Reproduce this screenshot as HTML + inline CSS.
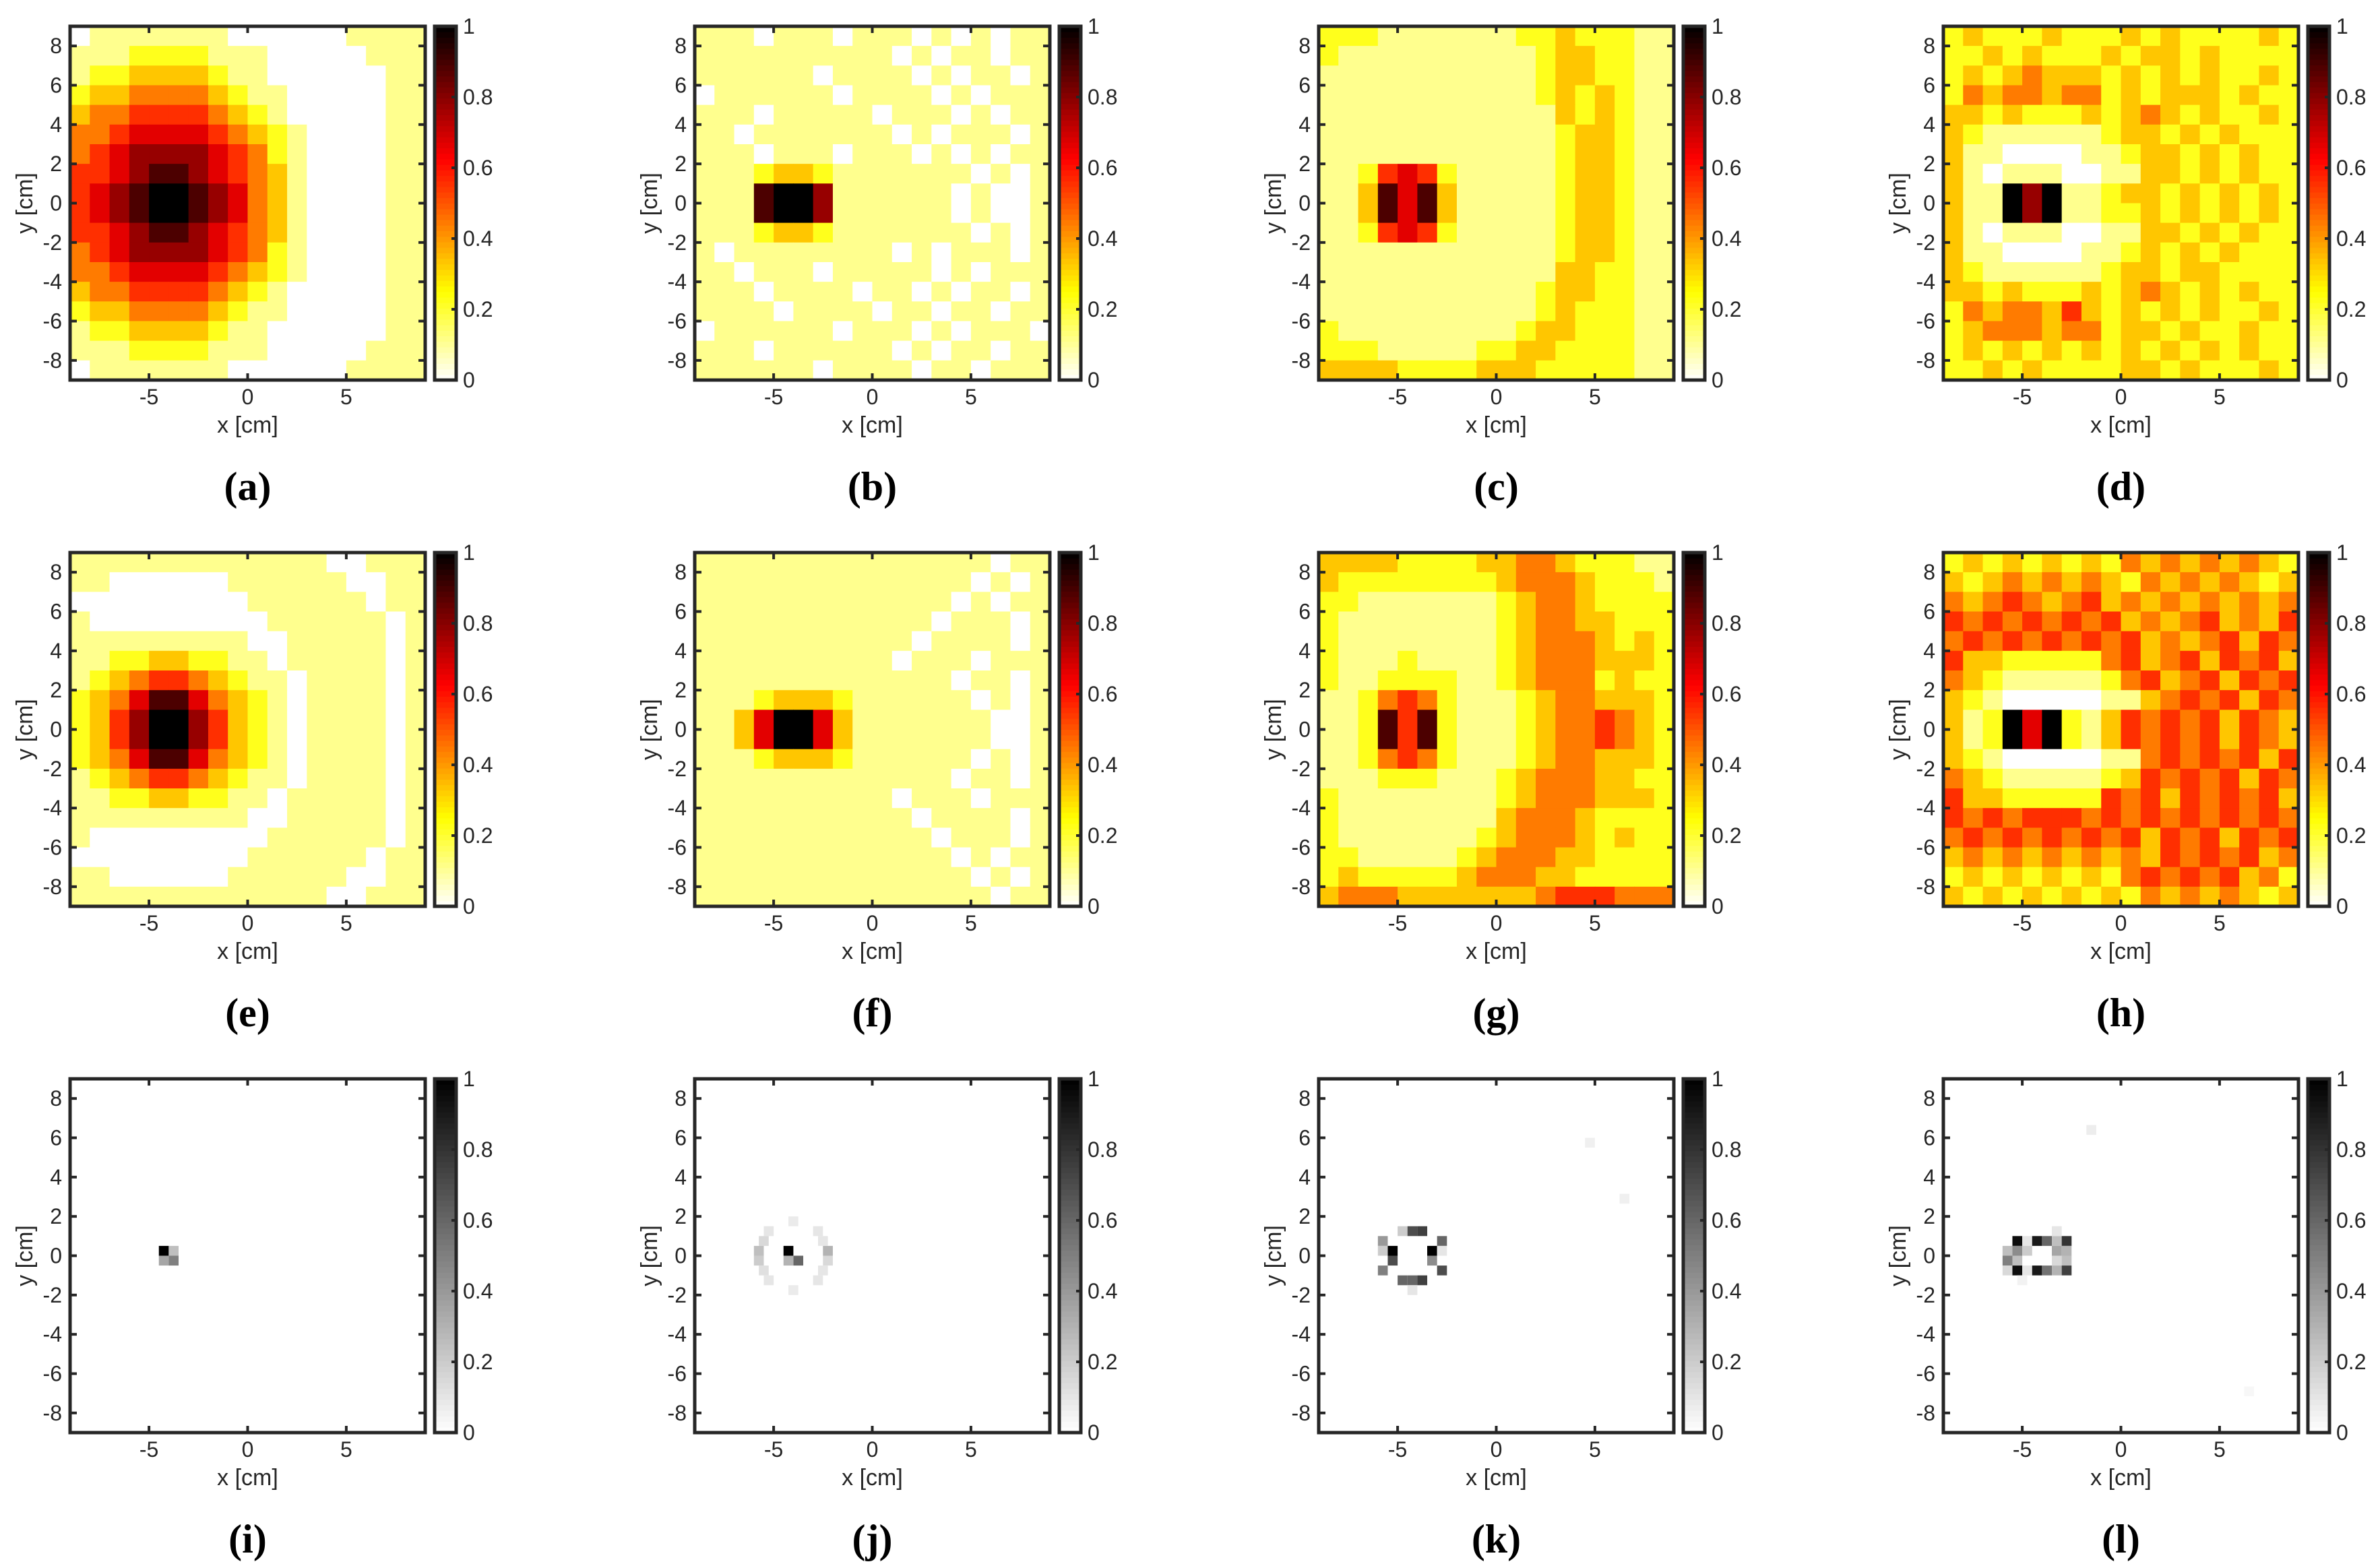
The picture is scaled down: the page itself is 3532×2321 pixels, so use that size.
<!DOCTYPE html>
<html><head><meta charset="utf-8"><style>
html,body{margin:0;padding:0;background:#fff;width:3532px;height:2321px;overflow:hidden}
svg{display:block}
text{font-family:"Liberation Sans",sans-serif;fill:#262626}
.pl{font-family:"Liberation Serif",serif;font-weight:bold;fill:#000}
</style></head><body>
<svg id="fig" width="3532" height="2321" viewBox="0 0 3532 2321" xmlns="http://www.w3.org/2000/svg"></svg>
<script>
// ---- data: 18x18 grids (1 cm cells, top row y=8.5 -> bottom y=-8.5, left col x=-8.5), digit/9 = normalized value
const gridA=["011111110000001111","111222211100000111","122333321100000011","233444432110000011","344555543210000011","445666654321000011","456777765421000011","556788765431000011","567899876431000011","567899876431000011","556788765431000011","456777765421000011","445666654321000011","344555543210000011","233444432110000011","122333321100000011","111222211100000111","011111110000001111"];
const gridB=["111011101110101011","111111111101011011","111111011110101101","011111101111010111","111011111011101011","110111111101011101","111011101110101011","111233211111110101","111899711111101001","111899711111101001","111233211111110101","101111111101011101","110111011111010111","111011110110101101","111101111011011011","011111101110101110","111011111101011011","111111011110110111"];
const gridC=["222111111122322211","211111111112332211","111111111112332211","111111111112323211","111111111111323211","111111111111233211","111111111111233211","112565211111233211","113868311111233211","113868311111233211","112565211111233211","111111111111233211","111111111111332211","111111111112332211","111111111112322211","211111111123322211","222111112233222211","333322223332222211"];
const gridD=["232223222323222232","223232223233232222","232343332323232232","243443442323332322","332322232343232232","321111112332323222","311000011233232322","310111001133232322","311979112332323232","311979112232323232","310111001133232322","311000011232323222","321111112332332222","332322232343232322","243443532323232232","234443442332322322","232323232323232322","223232222332322232"];
const gridE=["111111111111100111","110000001111110011","000000000111111011","100000000011111101","111111111001111101","112233221101111101","123455432110111101","234688643210111101","235799753210111101","235799753210111101","234688643210111101","123455432110111101","112233221101111101","111111111001111101","100000000011111101","000000000111111011","110000001111110011","111111111111100111"];
const gridF=["111111111111111011","111111111111110101","111111111111101011","111111111111011101","111111111110111101","111111111101110111","111111111111101101","111233321111110101","113699631111111001","113699631111111001","111233321111110101","111111111111101101","111111111101110111","111111111110111101","111111111111011101","111111111111101011","111111111111110101","111111111111111011"];
const gridG=["333322223344322211","322222222344432221","221111111234432222","211111111234433222","211111111234443232","211121111234443332","211222211234442322","112454211123443332","112858211123445432","112858211123445432","112454211123443332","111222111234443322","211111111234443332","211111111344432222","211111112344432322","221111123444332222","232222234443322222","344433333334555444"];
const gridH=["232323232434343432","323434343243434323","434543453434343434","545454545343453435","454545454534345354","533222224534535453","432111112453453545","321000001134545354","312969213545453543","312969213545453543","321000001145454535","432111112354545354","533222225453545453","545455545454545454","454545454535453545","343434343435454534","232323232454545342","323232323243434323"];
// sparse panels: [x cm, y cm, value] for 0.5 cm cells
const sparseI=[[-4.25,0.25,1.0],[-3.75,0.25,0.25],[-4.25,-0.25,0.35],[-3.75,-0.25,0.5]];
const sparseJ=[[-4.25,0.25,1.0],[-3.75,-0.25,0.6],[-4.25,-0.25,0.3],[-4.0,1.75,0.08],[-4.0,-1.75,0.08],[-5.25,1.25,0.1],[-2.75,1.25,0.1],[-5.25,-1.25,0.1],[-2.75,-1.25,0.1],[-5.75,0.25,0.25],[-5.75,-0.25,0.2],[-2.25,0.25,0.3],[-2.25,-0.25,0.15],[-5.5,0.75,0.15],[-2.5,0.75,0.1],[-5.5,-0.75,0.12],[-2.5,-0.75,0.1]];
const sparseK=[[-5.25,0.25,1.0],[-3.25,0.25,1.0],[-5.75,0.75,0.4],[-5.75,-0.75,0.5],[-2.75,0.75,0.6],[-2.75,-0.75,0.7],[-5.25,-0.25,0.7],[-3.25,-0.25,0.45],[-4.75,1.25,0.2],[-4.25,1.25,0.7],[-3.75,1.25,0.75],[-4.75,-1.25,0.6],[-4.25,-1.25,0.6],[-3.75,-1.25,0.75],[-5.75,0.25,0.2],[-2.75,0.25,0.1],[-4.25,-1.75,0.1],[4.75,5.75,0.06],[6.5,2.9,0.06]];
const sparseL=[[-5.25,0.75,0.95],[-4.75,0.75,0.1],[-4.25,0.75,0.9],[-3.75,0.75,0.6],[-3.25,0.75,0.25],[-2.75,0.75,0.8],[-5.75,0.25,0.25],[-5.25,0.25,0.45],[-4.75,0.25,0.2],[-3.25,0.25,0.35],[-2.75,0.25,0.3],[-5.75,-0.25,0.5],[-5.25,-0.25,0.25],[-3.25,-0.25,0.15],[-2.75,-0.25,0.25],[-5.75,-0.75,0.15],[-5.25,-0.75,0.95],[-4.75,-0.75,0.1],[-4.25,-0.75,0.9],[-3.75,-0.75,0.55],[-3.25,-0.75,0.3],[-2.75,-0.75,0.75],[-3.25,1.25,0.1],[-5.0,-1.25,0.05],[-1.5,6.4,0.07],[6.5,-6.9,0.03]];
const panelLabels=["a","b","c","d","e","f","g","h","i","j","k","l"];
const yTicks=[8,6,4,2,0,-2,-4,-6,-8];
const xTicks=[-5,0,5];
const cTicks=[0,0.2,0.4,0.6,0.8,1];

const NS="http://www.w3.org/2000/svg";
const fig=document.getElementById('fig');
function mk(tag,attrs,parent){const e=document.createElementNS(NS,tag);for(const k in attrs)e.setAttribute(k,attrs[k]);(parent||fig).appendChild(e);return e;}
function hot(v){const t=1-Math.max(0,Math.min(1,v));const r=Math.min(1,t/0.375),g=Math.max(0,Math.min(1,(t-0.375)/0.375)),b=Math.max(0,Math.min(1,(t-0.75)/0.25));return `rgb(${Math.round(r*255)},${Math.round(g*255)},${Math.round(b*255)})`;}
function gray(v){const c=Math.round((1-Math.max(0,Math.min(1,v)))*255);return `rgb(${c},${c},${c})`;}

const lefts=[104,1031,1957,2884], tops=[39,820,1601], W=527, H=525;
const grids=[gridA,gridB,gridC,gridD,gridE,gridF,gridG,gridH];
const sparse=[sparseI,sparseJ,sparseK,sparseL];

for(let p=0;p<12;p++){
  const r=Math.floor(p/4), c=p%4, L=lefts[c], T=tops[r];
  const sx=x=>L+(x+9)/18*W, sy=y=>T+(9-y)/18*H;
  const isGray=p>=8, cmap=isGray?gray:hot;
  const g=mk('g',{});
  
  
  mk('rect',{x:L,y:T,width:W,height:H,fill:'#fff'},g);
  if(!isGray){
    const grid=grids[p];
    for(let i=0;i<18;i++)for(let j=0;j<18;j++){
      const v=parseInt(grid[i][j])/9;
      const x0=sx(-9+j), y0=sy(9-i);
      const cell=mk('rect',{x:x0,y:y0,width:sx(-8+j)-x0+0.6,height:sy(8-i)-y0+0.6,fill:cmap(v)},g);
      
      
    }
  } else {
    for(const [x,y,v] of sparse[p-8]){
      const cell=mk('rect',{x:sx(x-0.25),y:sy(y+0.25),width:sx(x+0.25)-sx(x-0.25),height:sy(y-0.25)-sy(y+0.25),fill:cmap(v)},g);
      
      
    }
  }
  const fr=mk('rect',{x:L,y:T,width:W,height:H,fill:'none',stroke:'#262626','stroke-width':5},g);
  
  
  for(const t of yTicks){
    const y=sy(t);
    mk('line',{x1:L,x2:L+10,y1:y,y2:y,stroke:'#262626','stroke-width':4},g);
    mk('line',{x1:L+W-10,x2:L+W,y1:y,y2:y,stroke:'#262626','stroke-width':4},g);
    const tl=mk('text',{x:L-12,y:y+11,'font-size':32,'text-anchor':'end'},g);
    tl.textContent=String(t);
    
    
  }
  for(const t of xTicks){
    const x=sx(t);
    mk('line',{x1:x,x2:x,y1:T,y2:T+10,stroke:'#262626','stroke-width':4},g);
    mk('line',{x1:x,x2:x,y1:T+H-10,y2:T+H,stroke:'#262626','stroke-width':4},g);
    const tl=mk('text',{x:x,y:T+H+36,'font-size':32,'text-anchor':'middle'},g);
    tl.textContent=String(t);
    
    
  }
  const xl=mk('text',{x:L+W/2,y:T+H+78,'font-size':34,'text-anchor':'middle'},g);
  xl.textContent='x [cm]';
  
  
  const yl=mk('text',{x:0,y:0,'font-size':34,'text-anchor':'middle',transform:`translate(${L-56},${T+H/2}) rotate(-90)`},g);
  yl.textContent='y [cm]';
  
  
  const CL=L+541, CW=32;
  const N=64;
  for(let k=0;k<N;k++){
    const v=(k+0.5)/N;
    const y0=T+H-(k+1)/N*H;
    const seg=mk('rect',{x:CL,y:y0,width:CW,height:H/N+0.6,fill:cmap(v)},g);
    
    
  }
  const cf=mk('rect',{x:CL,y:T,width:CW,height:H,fill:'none',stroke:'#262626','stroke-width':5},g);
  
  
  for(const t of cTicks){
    const y=T+H-t*H;
    mk('line',{x1:CL+CW-7,x2:CL+CW,y1:y,y2:y,stroke:'#262626','stroke-width':4},g);
    const cl=mk('text',{x:CL+CW+10,y:y+11,'font-size':32},g);
    cl.textContent=String(t);
    
    
  }
  const pl=mk('text',{x:L+W/2,y:T+H+178,'font-size':60,'text-anchor':'middle','class':'pl'},g);
  pl.textContent='('+panelLabels[p]+')';
  
  
}
</script>
</body></html>
